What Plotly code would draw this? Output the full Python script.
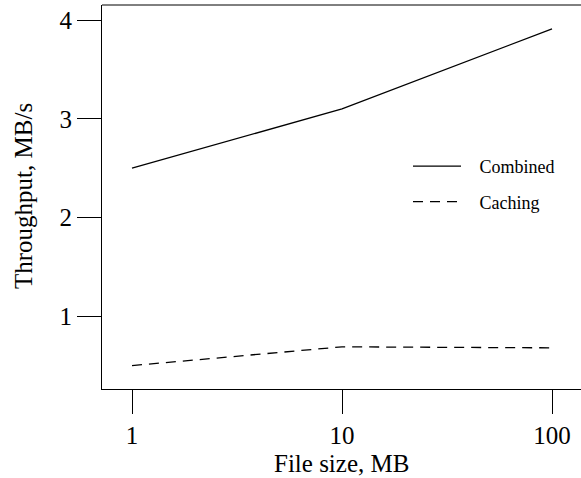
import plotly.graph_objects as go

file_size = [1, 10, 100]
combined = [2.50, 3.10, 3.91]
caching = [0.50, 0.69, 0.68]
x_ticks = [1, 10, 100]
x_tick_labels = ["1", "10", "100"]
y_ticks = [1, 2, 3, 4]

FONT = "Liberation Serif"
PAD = "\u00a0" * 3

fig = go.Figure()
fig.add_trace(go.Scatter(x=file_size, y=combined, mode="lines", name=PAD + "Combined",
                         legendgroup="a",
                         line=dict(color="black", width=1.3)))
fig.add_trace(go.Scatter(x=file_size, y=caching, mode="lines", name=PAD + "Caching",
                         legendgroup="b",
                         line=dict(color="black", width=1.3, dash="10px,7px")))

fig.update_layout(
    width=581, height=478,
    margin=dict(l=102, r=0, t=5, b=89),
    paper_bgcolor="white", plot_bgcolor="white",
    font=dict(family=FONT, color="black", size=25),
    showlegend=True,
    legend=dict(x=(408 - 102) / 479, y=(389 - 148) / 384, xanchor="left", yanchor="top",
                font=dict(family=FONT, size=18, color="black"),
                bgcolor="rgba(0,0,0,0)", itemwidth=48, tracegroupgap=9,
                traceorder="grouped"),
    xaxis=dict(type="log", range=[-0.1429, 2.138], tickvals=x_ticks, ticktext=x_tick_labels,
               showgrid=False, zeroline=False, showline=True, linecolor="black", linewidth=1,
               ticks="outside", ticklen=24, tickwidth=1, tickcolor="black",
               tickfont=dict(family=FONT, size=25), mirror=False),
    yaxis=dict(range=[0.263, 4.152], tickvals=y_ticks,
               showgrid=False, zeroline=False, showline=True, linecolor="black", linewidth=1,
               ticks="outside", ticklen=24, tickwidth=1, tickcolor="black",
               tickfont=dict(family=FONT, size=25), mirror=False),
    shapes=[dict(type="line", xref="paper", yref="paper", x0=0, x1=1, y0=1, y1=1,
                 line=dict(color="black", width=1))],
    annotations=[
        dict(text="File size, MB", xref="paper", yref="paper", x=0.499, y=(389 - 463) / 384,
             xanchor="center", yanchor="middle", showarrow=False,
             font=dict(family=FONT, size=25)),
        dict(text="Throughput, MB/s", xref="paper", yref="paper", x=(23 - 102) / 479,
             y=(389 - 196) / 384, xanchor="center", yanchor="middle", textangle=-90,
             showarrow=False, font=dict(family=FONT, size=25)),
    ],
)

fig.write_html("out.html", config={"displayModeBar": False},
               post_script="document.body.style.margin='0';document.body.style.overflow='hidden';")
